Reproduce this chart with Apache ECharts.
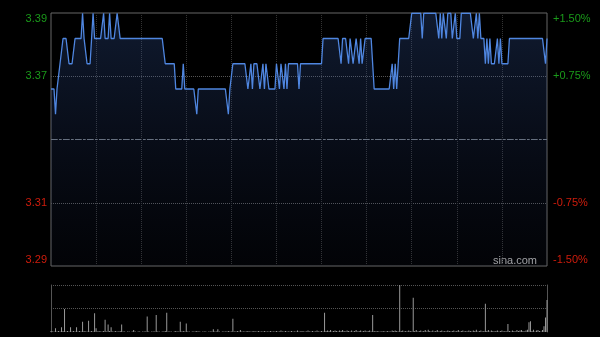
<!DOCTYPE html>
<html>
<head>
<meta charset="utf-8">
<script src="https://cdn.jsdelivr.net/npm/echarts@6/dist/echarts.min.js"></script>
<style>
  html, body { margin: 0; padding: 0; background: #000; }
  #main { width: 600px; height: 337px; }
</style>
</head>
<body>
<div id="main"></div>
<script>
// previous close, the 0% line
var prevClose = 3.34;

// tick labels, bottom to top (-1.5%, -0.75%, 0, +0.75%, +1.5%)
var leftLabels = ['3.29', '3.31', '', '3.37', '3.39'];
var rightLabels = ['-1.50%', '-0.75%', '', '+0.75%', '+1.50%'];

// one price per minute, 09:30 .. 16:00 (331 minutes)
var prices = [
  3.36,3.36,3.36,3.35,3.36,3.36,3.37,3.37,3.38,3.38,
  3.38,3.38,3.37,3.37,3.37,3.37,3.38,3.38,3.38,3.38,
  3.38,3.39,3.38,3.38,3.37,3.37,3.37,3.38,3.39,3.38,
  3.38,3.38,3.38,3.38,3.38,3.39,3.38,3.38,3.38,3.39,
  3.38,3.38,3.38,3.38,3.39,3.39,3.38,3.38,3.38,3.38,
  3.38,3.38,3.38,3.38,3.38,3.38,3.38,3.38,3.38,3.38,
  3.38,3.38,3.38,3.38,3.38,3.38,3.38,3.38,3.38,3.38,
  3.38,3.38,3.38,3.38,3.38,3.38,3.37,3.37,3.37,3.37,
  3.37,3.37,3.37,3.36,3.36,3.36,3.36,3.36,3.37,3.36,
  3.36,3.36,3.36,3.36,3.36,3.36,3.36,3.35,3.36,3.36,
  3.36,3.36,3.36,3.36,3.36,3.36,3.36,3.36,3.36,3.36,
  3.36,3.36,3.36,3.36,3.36,3.36,3.36,3.36,3.35,3.36,
  3.36,3.37,3.37,3.37,3.37,3.37,3.37,3.37,3.37,3.37,
  3.37,3.36,3.36,3.37,3.36,3.37,3.37,3.37,3.37,3.36,
  3.36,3.37,3.36,3.37,3.37,3.36,3.36,3.36,3.36,3.36,
  3.37,3.37,3.36,3.37,3.37,3.36,3.37,3.36,3.37,3.37,
  3.37,3.37,3.37,3.37,3.37,3.36,3.37,3.37,3.37,3.37,
  3.37,3.37,3.37,3.37,3.37,3.37,3.37,3.37,3.37,3.37,
  3.37,3.38,3.38,3.38,3.38,3.38,3.38,3.38,3.38,3.38,
  3.38,3.38,3.38,3.37,3.38,3.38,3.38,3.38,3.37,3.38,
  3.38,3.37,3.37,3.38,3.38,3.37,3.38,3.37,3.37,3.38,
  3.38,3.38,3.38,3.38,3.37,3.36,3.36,3.36,3.36,3.36,
  3.36,3.36,3.36,3.36,3.36,3.36,3.36,3.37,3.36,3.37,
  3.36,3.37,3.38,3.38,3.38,3.38,3.38,3.38,3.38,3.38,
  3.39,3.39,3.39,3.39,3.39,3.39,3.39,3.38,3.39,3.39,
  3.39,3.39,3.39,3.39,3.39,3.39,3.39,3.39,3.38,3.39,
  3.38,3.39,3.39,3.38,3.39,3.39,3.39,3.38,3.38,3.39,
  3.38,3.38,3.38,3.39,3.39,3.39,3.39,3.39,3.39,3.39,
  3.39,3.38,3.38,3.39,3.38,3.39,3.38,3.38,3.38,3.37,
  3.38,3.37,3.38,3.37,3.37,3.37,3.37,3.38,3.37,3.38,
  3.37,3.37,3.37,3.37,3.37,3.38,3.38,3.38,3.38,3.38,
  3.38,3.38,3.38,3.38,3.38,3.38,3.38,3.38,3.38,3.38,
  3.38,3.38,3.38,3.38,3.38,3.38,3.38,3.38,3.38,3.37,
  3.38
];

// volume per minute, relative (tallest bar = 100)
var volumes = [
  2,1,1,8,1,2,1,10,2,49,
  1,2,1,10,1,2,1,10,1,2,
  1,22,2,1,1,24,1,2,1,40,
  8,1,2,1,1,2,26,1,16,2,
  10,1,1,2,1,1,2,16,1,1,
  0,1,1,0,1,4,1,0,1,1,
  0,1,1,1,33,1,0,1,1,1,
  36,1,1,0,1,1,2,41,1,1,
  1,0,1,2,1,1,22,1,2,1,
  18,1,1,0,1,1,1,2,1,1,
  0,1,1,1,0,1,1,1,6,1,
  1,6,1,0,1,1,1,1,2,1,
  1,28,1,1,2,1,4,1,1,1,
  1,2,1,1,1,2,1,1,2,1,
  1,1,2,1,1,1,2,1,1,1,
  2,1,1,3,1,1,2,1,1,1,
  2,1,1,1,3,1,1,2,1,1,
  1,3,1,1,2,1,1,3,1,1,
  2,1,41,2,3,2,4,1,2,3,
  2,1,3,2,4,2,1,3,2,1,
  3,1,2,4,1,2,3,1,2,3,
  1,2,3,1,36,2,1,2,1,1,
  1,2,1,1,2,1,1,3,2,3,
  2,1,100,2,3,1,2,1,3,2,
  1,73,2,4,1,2,3,1,2,4,
  1,5,2,1,3,1,2,4,1,2,
  3,1,2,1,3,2,1,2,3,1,
  2,4,1,2,3,1,2,1,3,2,
  1,3,2,5,1,2,3,1,2,60,
  2,4,1,3,2,1,2,3,1,2,
  3,1,2,1,17,2,1,3,2,1,
  4,2,3,4,2,1,3,5,21,23,
  2,5,1,3,4,2,1,4,12,31,
  68
];

var green = '#1a9a1a';
var red = '#d01c0c';
var font = 'Liberation Sans, Arial, sans-serif';

function labelColor(v, idx) {
  return idx >= 3 ? green : red;
}
function wrap(text, idx) {
  if (idx === 4) return '{t|' + text + '}';
  if (idx === 0) return '{b|' + text + '}';
  return text;
}
var richShift = {
  t: { padding: [12, 0, 0, 0] },
  b: { padding: [0, 0, 12, 0] }
};

var chart = echarts.init(document.getElementById('main'));

var option = {
  backgroundColor: '#000',
  animation: false,
  grid: [
    { left: 51, right: 53, top: 13, height: 253, show: true, borderColor: '#666', borderWidth: 1, backgroundColor: 'transparent' },
    { left: 51, right: 53, top: 285, height: 47 }
  ],
  xAxis: [
    {
      type: 'value', gridIndex: 0, min: 0, max: 330, interval: 30,
      axisLine: { show: false }, axisTick: { show: false }, axisLabel: { show: false },
      splitLine: { show: true, showMinLine: false, showMaxLine: false, lineStyle: { color: '#333', type: 'dotted' } }
    },
    {
      type: 'value', gridIndex: 1, min: 0, max: 330, interval: 30,
      axisLine: { show: false }, axisTick: { show: false }, axisLabel: { show: false },
      splitLine: { show: false }
    }
  ],
  yAxis: [
    {
      type: 'value', gridIndex: 0, position: 'left', min: -1.5, max: 1.5, interval: 0.75,
      axisLine: { show: false }, axisTick: { show: false },
      axisLabel: {
        margin: 4, fontSize: 11, fontFamily: font, color: labelColor,
        formatter: function (v, idx) { return wrap(leftLabels[idx], idx); },
        rich: richShift
      },
      splitLine: { show: true, showMinLine: false, showMaxLine: false, lineStyle: { color: '#555', type: 'dotted' } }
    },
    {
      type: 'value', gridIndex: 0, position: 'right', min: -1.5, max: 1.5, interval: 0.75,
      axisLine: { show: false }, axisTick: { show: false },
      axisLabel: {
        margin: 6, fontSize: 11, fontFamily: font, color: labelColor,
        formatter: function (v, idx) { return wrap(rightLabels[idx], idx); },
        rich: richShift
      },
      splitLine: { show: false }
    },
    {
      // hidden price scale for the line, same span as +-1.5%
      type: 'value', gridIndex: 0, show: false,
      min: prevClose * 0.985, max: prevClose * 1.015
    },
    {
      type: 'value', gridIndex: 1, position: 'left', min: 0, max: 100, interval: 50,
      axisLine: { show: true, lineStyle: { color: '#555' } }, axisTick: { show: false }, axisLabel: { show: false },
      splitLine: { show: true, showMinLine: false, lineStyle: { color: '#555', type: 'dotted' } }
    },
    {
      type: 'value', gridIndex: 1, position: 'right', min: 0, max: 100, interval: 50,
      axisLine: { show: true, lineStyle: { color: '#555' } }, axisTick: { show: false }, axisLabel: { show: false },
      splitLine: { show: false }
    }
  ],
  series: [
    {
      type: 'line',
      xAxisIndex: 0, yAxisIndex: 2,
      data: prices.map(function (p, i) { return [i, p]; }),
      showSymbol: false,
      lineStyle: { color: '#4f86e0', width: 1.3 },
      areaStyle: {
        color: new echarts.graphic.LinearGradient(0, 0, 0, 1, [
          { offset: 0, color: 'rgba(60,100,180,0.38)' },
          { offset: 1, color: 'rgba(40,60,120,0.08)' }
        ])
      },
      markLine: {
        silent: true, symbol: 'none', label: { show: false },
        lineStyle: { color: '#667080', type: [6, 2, 2, 2], width: 1 },
        data: [{ yAxis: prevClose }]
      }
    },
    {
      type: 'bar',
      xAxisIndex: 1, yAxisIndex: 3,
      data: volumes.map(function (v, i) { return [i, v]; }),
      barWidth: 1,
      itemStyle: { color: '#999' }
    }
  ],
  graphic: [
    {
      type: 'text', right: 63, top: 255,
      style: { text: 'sina.com', fill: '#a8a8a8', fontSize: 11, fontFamily: font }
    }
  ]
};

chart.setOption(option);
</script>
</body>
</html>
